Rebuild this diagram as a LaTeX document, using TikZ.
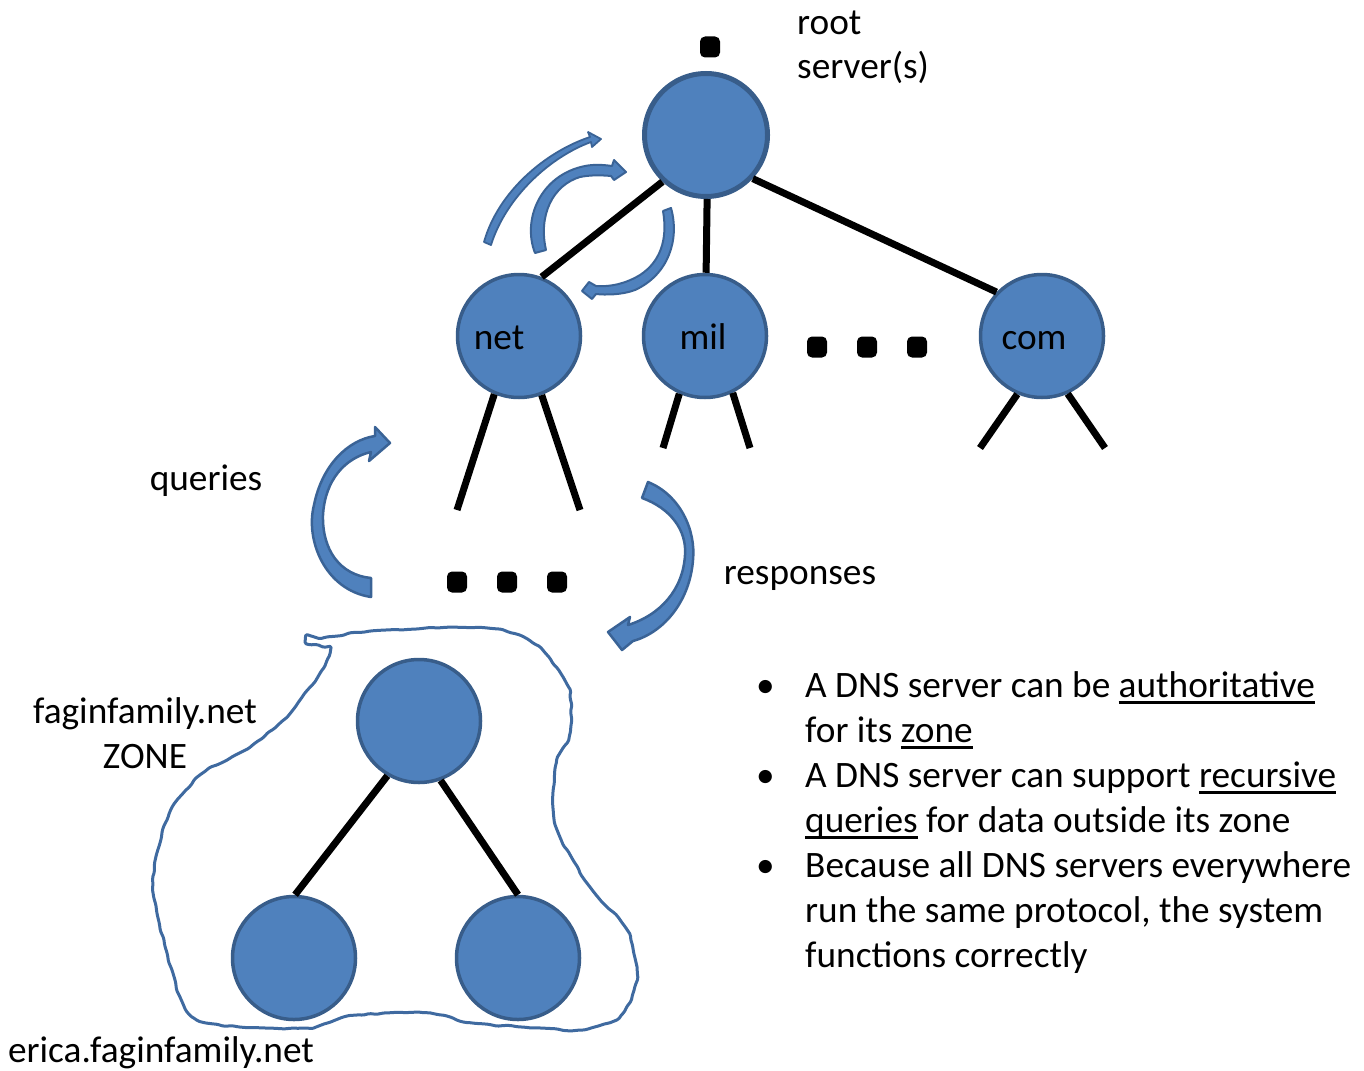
\documentclass[tikz,border=0pt]{standalone}
\usepackage{fontspec}
\setmainfont{Carlito}
\usetikzlibrary{decorations.pathmorphing}
% underlined word with a fixed rule below the baseline
\newcommand{\ulword}[1]{\setbox0\hbox{#1}\rlap{\rule[-6.5pt]{\wd0}{2.2pt}}\box0}
\definecolor{srvfill}{HTML}{4F81BD}
\definecolor{srvline}{HTML}{385D8A}
\definecolor{arrline}{HTML}{3A6396}
\definecolor{zoneline}{HTML}{3F6AA0}
\begin{document}
\begin{tikzpicture}[x=1pt,y=-1pt,
  every node/.style={font=\fontsize{37.3}{45}\selectfont},
  srv/.style={circle, draw=srvline, fill=srvfill, line width=3.5pt, minimum size=123pt, inner sep=0pt},
  link/.style={line width=7pt, black},
  dotmark/.style={fill=black, rounded corners=5pt, minimum width=20pt, minimum height=21pt, inner sep=0pt},
  bluearrow/.style={fill=srvfill, draw=arrline, line width=2.5pt, line join=round},
  lbl/.style={anchor=base, inner sep=0pt},
  txt/.style={anchor=base west, inner sep=0pt}]
\useasboundingbox (0,0) rectangle (1364,1070);

% servers of the tree
\node[srv, line width=5pt] (root) at (706,135) {};
\node[srv] (net) at (519,336) {};
\node[srv] (mil) at (705,336) {};
\node[srv] (com) at (1042,336) {};
\node[lbl] (netlbl) at (499,349) {net};
\node[lbl] (millbl) at (703,349) {mil};
\node[lbl] (comlbl) at (1034,349) {com};

% zone servers
\node[srv] (zonetop) at (419,721) {};
\node[srv] (zoneleft) at (294,958) {};
\node[srv] (zoneright) at (518,958) {};

% ellipsis marks
\node[dotmark] (rootdot) at (710,47) {};
\node[dotmark] (tdot1) at (817,347) {};
\node[dotmark] (tdot2) at (867,347) {};
\node[dotmark] (tdot3) at (917,347) {};
\node[dotmark] (bdot1) at (457,582) {};
\node[dotmark] (bdot2) at (507,582) {};
\node[dotmark] (bdot3) at (557,582) {};

% free ends of the lower branches
\coordinate (netL) at (457,510);
\coordinate (netR) at (580,510);
\coordinate (milL) at (663,448);
\coordinate (milR) at (750,448);
\coordinate (comL) at (980,448);
\coordinate (comR) at (1105,448);

% tree links
\draw[link] (root.227) -- (net.69);
\draw[link] (root.271) -- (mil.89);
\draw[link] (root.317) -- (com.136);
\draw[link] (net.247) -- (netL);
\draw[link] (net.291) -- (netR);
\draw[link] (mil.246) -- (milL);
\draw[link] (mil.296) -- (milR);
\draw[link] (com.247) -- (comL);
\draw[link] (com.294) -- (comR);
\draw[link] (zonetop.240) -- (zoneleft.89);
\draw[link] (zonetop.290) -- (zoneright.90);

% zone boundary, hand-drawn look
\draw[zoneline, line width=3pt, line join=round, rounded corners=1.5pt,
      decorate, decoration={random steps, segment length=7pt, amplitude=0.9pt}]
  plot[smooth cycle, tension=0.55] coordinates {
  (305,642) (327,637) (387,630) (487,628) (533,643) (563,677) (570,697)
  (570,733) (557,760) (553,807) (560,837) (573,860) (587,883) (603,903)
  (620,920) (630,937) (637,970) (633,993) (623,1013) (607,1023) (580,1030)
  (540,1028) (473,1023) (427,1013) (357,1015) (327,1023) (307,1028)
  (240,1027) (197,1020) (180,997) (167,953) (157,913) (153,887) (157,853)
  (167,820) (180,797) (203,773) (227,760) (250,747) (280,723) (300,700)
  (320,673) (330,653) (325,648)};

% small query arrows beside the root
\draw[bluearrow, line width=1.8pt]
  (484,242) .. controls (498,192) and (545,152) .. (590,137)
  -- (588,132) -- (601,139) -- (592,147) -- (591,142)
  .. controls (550,157) and (506,197) .. (491,245) -- cycle;
\draw[bluearrow, line width=2pt]
  (535,253) .. controls (522,220) and (540,175) .. (585,166)
  .. controls (595,164) and (605,165) .. (612,166)
  -- (614,160) -- (626,172) -- (614,180) -- (611,176)
  .. controls (600,175) and (590,175) .. (580,177)
  .. controls (553,185) and (538,215) .. (546,250) -- cycle;
\draw[bluearrow, line width=2pt]
  (671,208) .. controls (680,240) and (668,275) .. (635,290)
  .. controls (622,295) and (605,295) .. (596,294)
  -- (592,299) -- (582,291) -- (589,282) -- (596,286)
  .. controls (610,287) and (625,284) .. (640,275)
  .. controls (660,262) and (668,240) .. (663,211) -- cycle;

% large queries / responses arrows
\draw[bluearrow]
  (371,597) .. controls (325,590) and (305,540) .. (314,505)
  .. controls (322,465) and (348,440) .. (375,436)
  -- (375,427) -- (390,443) -- (369,461) -- (371,452)
  .. controls (345,458) and (325,480) .. (323,515)
  .. controls (322,550) and (340,575) .. (371,578) -- cycle;
\draw[bluearrow]
  (648,482) .. controls (680,495) and (696,530) .. (693,560)
  .. controls (690,600) and (665,632) .. (633,641)
  -- (622,650) -- (608,632) -- (630,617) -- (628,625)
  .. controls (660,615) and (683,590) .. (685,555)
  .. controls (687,530) and (670,508) .. (642,498) -- cycle;

% labels
\node[txt] (rootlbl) at (797,35) {root};
\node[txt] (serverslbl) at (797,79) {server(s)};
\node[lbl] (querieslbl) at (206,490) {queries};
\node[lbl] (responseslbl) at (800,584) {responses};
\node[lbl] (zonename) at (145,723) {faginfamily.net};
\node[lbl] (zonelbl) at (145,768) {ZONE};
\node[lbl] (hostlbl) at (161,1062) {erica.faginfamily.net};

% bullet list
\node[txt] (b1) at (756,697) {•};
\node[txt] (b2) at (756,787) {•};
\node[txt] (b3) at (756,877) {•};
\node[txt] (l1) at (805,697) {A DNS server can be \ulword{authoritative}};
\node[txt] (l2) at (805,742) {for its \ulword{zone}};
\node[txt] (l3) at (805,787) {A DNS server can support \ulword{recursive}};
\node[txt] (l4) at (805,832) {\ulword{queries}\ for data outside its zone};
\node[txt] (l5) at (805,877) {Because all DNS servers everywhere};
\node[txt] (l6) at (805,922) {run the same protocol, the system};
\node[txt] (l7) at (805,967) {functions correctly};
\end{tikzpicture}
\end{document}
